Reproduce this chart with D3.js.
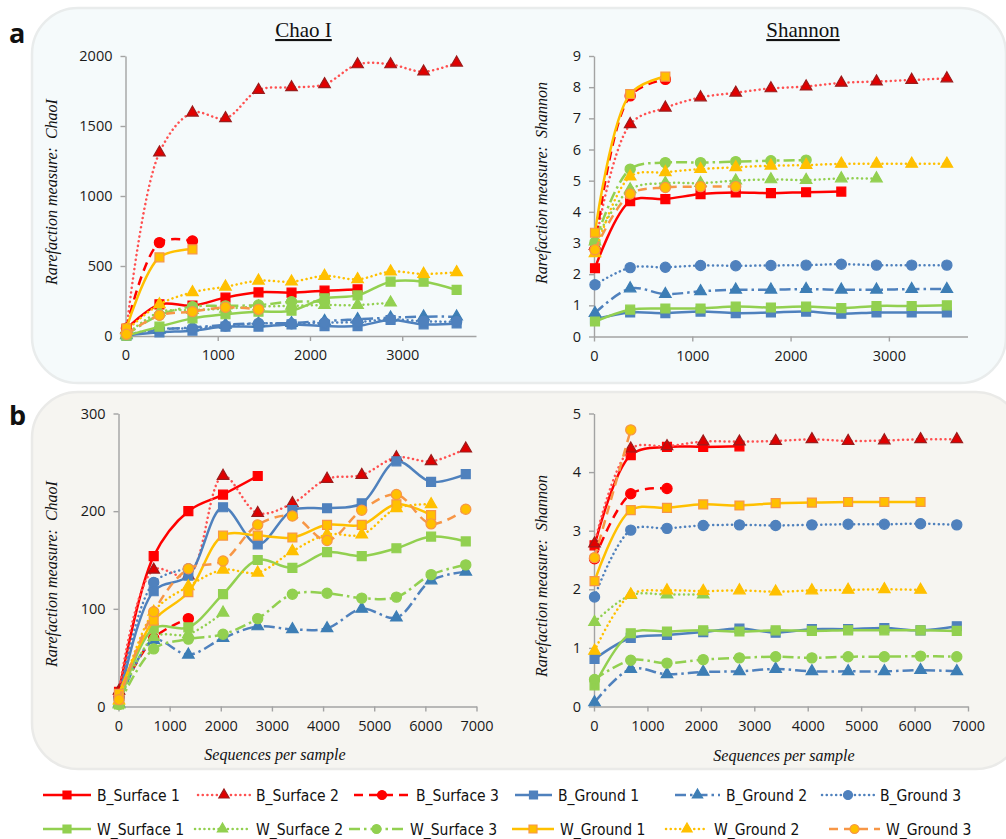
<!DOCTYPE html>
<html><head><meta charset="utf-8">
<script src="https://cdn.jsdelivr.net/npm/d3@7"></script>
<style>body{margin:0;background:#fff;}</style>
</head><body>
<svg id="chart" width="1006" height="839"></svg>
<script>
// ---------- data ----------
const seriesNames = ["B_Surface 1","B_Surface 2","B_Surface 3","B_Ground 1","B_Ground 2","B_Ground 3",
                     "W_Surface 1","W_Surface 2","W_Surface 3","W_Ground 1","W_Ground 2","W_Ground 3"];
const depthsA = [10, 368, 726, 1084, 1442, 1800, 2158, 2516, 2874, 3232, 3590];
const depthsB = [10, 688, 1366, 2044, 2722, 3400, 4078, 4756, 5434, 6112, 6790];
const xTicksA = [0, 1000, 2000, 3000];
const xTicksB = [0, 1000, 2000, 3000, 4000, 5000, 6000, 7000];
const chaoTicksA = [0, 500, 1000, 1500, 2000];
const shannonTicksA = [0, 1, 2, 3, 4, 5, 6, 7, 8, 9];
const chaoTicksB = [0, 100, 200, 300];
const shannonTicksB = [0, 1, 2, 3, 4, 5];

const chaoA = [
  [50, 226, 217, 274, 312, 310, 324, 333],
  [45, 1310, 1595, 1555, 1757, 1776, 1798, 1940, 1940, 1888, 1952],
  [55, 667, 679],
  [3, 26, 38, 67, 67, 83, 71, 71, 114, 83, 90],
  [5, 45, 60, 80, 90, 92, 107, 119, 131, 138, 138],
  [8, 50, 55, 72, 90, 88, 95, 100, 119, 105, 102],
  [2, 67, 126, 155, 174, 181, 269, 290, 388, 388, 329],
  [10, 170, 185, 195, 210, 215, 221, 221, 238],
  [10, 150, 210, 215, 221, 245, 245],
  [55, 562, 619],
  [40, 226, 312, 352, 395, 388, 429, 405, 460, 443, 455],
  [12, 148, 174, 205, 190]
];
const shannonA = [
  [2.19, 4.34, 4.41, 4.57, 4.62, 4.60, 4.63, 4.65],
  [2.9, 6.81, 7.34, 7.67, 7.82, 7.96, 8.02, 8.14, 8.18, 8.23, 8.28],
  [2.8, 7.72, 8.25],
  [0.55, 0.77, 0.75, 0.80, 0.75, 0.77, 0.80, 0.73, 0.77, 0.77, 0.77],
  [0.75, 1.54, 1.36, 1.45, 1.50, 1.50, 1.52, 1.50, 1.50, 1.52, 1.52],
  [1.66, 2.21, 2.22, 2.28, 2.27, 2.28, 2.29, 2.32, 2.29, 2.29, 2.29],
  [0.48, 0.86, 0.90, 0.90, 0.96, 0.93, 0.96, 0.91, 0.98, 0.98, 1.00],
  [3.05, 4.72, 4.92, 4.92, 5.00, 5.04, 5.02, 5.07, 5.07],
  [3.02, 5.37, 5.58, 5.58, 5.61, 5.64, 5.66],
  [3.33, 7.78, 8.34],
  [2.67, 5.13, 5.27, 5.37, 5.43, 5.48, 5.50, 5.54, 5.54, 5.54, 5.54],
  [2.78, 4.57, 4.78, 4.81, 4.81]
];
const chaoB = [
  [15, 154, 200, 217, 236],
  [16, 140, 134, 236, 198, 208, 233, 237, 255, 251, 264],
  [10, 70, 90],
  [5, 118, 134, 204, 166, 201, 203, 208, 251, 230, 238],
  [3, 68, 53, 70, 82, 79, 80, 100, 91, 129, 138],
  [8, 127, 141],
  [2, 80, 81, 115, 150, 142, 158, 154, 162, 174, 169],
  [2, 71, 74, 96],
  [2, 59, 69, 74, 90, 115, 116, 111, 112, 135, 145],
  [13, 88, 117, 175, 175, 173, 186, 186, 207, 196],
  [6, 97, 123, 140, 137, 159, 176, 176, 203, 207],
  [7, 97, 141, 149, 186, 195, 170, 201, 217, 187, 202]
];
const shannonB = [
  [2.75, 4.29, 4.43, 4.43, 4.44],
  [2.78, 4.40, 4.44, 4.52, 4.52, 4.53, 4.56, 4.53, 4.54, 4.56, 4.56],
  [2.52, 3.63, 3.72],
  [0.81, 1.17, 1.22, 1.27, 1.33, 1.26, 1.32, 1.32, 1.34, 1.30, 1.37],
  [0.07, 0.64, 0.55, 0.59, 0.60, 0.64, 0.60, 0.60, 0.60, 0.62, 0.60],
  [1.87, 3.01, 3.04, 3.09, 3.10, 3.09, 3.10, 3.11, 3.11, 3.12, 3.10],
  [0.36, 1.25, 1.28, 1.30, 1.28, 1.30, 1.29, 1.30, 1.30, 1.30, 1.29],
  [1.44, 1.90, 1.91, 1.91],
  [0.46, 0.79, 0.74, 0.80, 0.83, 0.85, 0.83, 0.85, 0.85, 0.86, 0.85],
  [2.14, 3.35, 3.39, 3.45, 3.43, 3.47, 3.48, 3.49, 3.49, 3.49],
  [0.95, 1.91, 1.98, 1.97, 1.98, 1.96, 1.98, 1.99, 2.00, 1.99],
  [2.54, 4.72]
];

// ---------- styles ----------
const RED = "#FF0000", BLUE = "#4F81BD", GREEN = "#92D050", GOLD = "#FFC000", ORANGE = "#F79646";
const styles = [
  {line: RED, dash: "solid", marker: "square", fill: RED, stroke: RED},
  {line: "#FF5050", dash: "dot", marker: "triangle", fill: "#E00000", stroke: "#9B1C1C"},
  {line: RED, dash: "dash", marker: "circle", fill: RED, stroke: RED},
  {line: BLUE, dash: "solid", marker: "square", fill: BLUE, stroke: BLUE},
  {line: BLUE, dash: "dashdot", marker: "triangle", fill: "#3D7EB5", stroke: "#3D7EB5"},
  {line: BLUE, dash: "dot", marker: "circle", fill: BLUE, stroke: BLUE},
  {line: GREEN, dash: "solid", marker: "square", fill: GREEN, stroke: GREEN},
  {line: GREEN, dash: "dot", marker: "triangle", fill: GREEN, stroke: GREEN},
  {line: GREEN, dash: "dashdot", marker: "circle", fill: GREEN, stroke: GREEN},
  {line: GOLD, dash: "solid", marker: "square", fill: GOLD, stroke: ORANGE},
  {line: GOLD, dash: "dot", marker: "triangle", fill: GOLD, stroke: GOLD},
  {line: ORANGE, dash: "dash", marker: "circle", fill: GOLD, stroke: ORANGE}
];
const dashArr = {solid: null, dot: "0.1 4.6", dash: "9 6", dashdot: "11 4 2.5 4"};
const symbolOf = {
  square: d3.symbol().type(d3.symbolSquare).size(80),
  triangle: d3.symbol().type(d3.symbolTriangle).size(58),
  circle: d3.symbol().type(d3.symbolCircle).size(82)
};
const legendSymbolOf = {
  square: d3.symbol().type(d3.symbolSquare).size(64),
  triangle: d3.symbol().type(d3.symbolTriangle).size(46),
  circle: d3.symbol().type(d3.symbolCircle).size(64)
};

const svg = d3.select("#chart");
const tickFont = "'Open Sans', 'Noto Sans', sans-serif";
const serif = "'Liberation Serif', 'DejaVu Serif', serif";

// panel backgrounds
svg.append("rect").attr("x", 32).attr("y", 8).attr("width", 974).attr("height", 375)
  .attr("rx", 46).attr("fill", "#F5FAFB").attr("stroke", "#E9ECEC").attr("stroke-width", 2.5);
svg.append("rect").attr("x", 32).attr("y", 392).attr("width", 990).attr("height", 377)
  .attr("rx", 46).attr("fill", "#F6F5F1").attr("stroke", "#EAEAE8").attr("stroke-width", 2.5);

// panel letters
svg.append("text").attr("x", 9).attr("y", 43).text("a")
  .attr("font-family", tickFont).attr("font-weight", "bold").attr("font-size", 27).attr("fill", "#111");
svg.append("text").attr("x", 9).attr("y", 425).text("b")
  .attr("font-family", tickFont).attr("font-weight", "bold").attr("font-size", 27).attr("fill", "#111");

// titles
[["Chao I", 303.5], ["Shannon", 803]].forEach(([t, cx]) => {
  svg.append("text").attr("x", cx).attr("y", 37).attr("text-anchor", "middle")
    .attr("font-family", serif).attr("font-size", 21).attr("fill", "#111")
    .style("text-decoration", "underline").text(t);
});

function drawPanel(p) {
  const x = d3.scaleLinear().domain(p.xDomain).range(p.xRange);
  const y = d3.scaleLinear().domain(p.yDomain).range(p.yRange);
  const g = svg.append("g");
  const fmt = d3.format("d");

  const ya = g.append("g").attr("transform", `translate(${p.xRange[0]},0)`)
    .call(d3.axisLeft(y).tickValues(p.yTicks).tickFormat(fmt).tickSize(5).tickSizeOuter(0).tickPadding(8));
  const xa = g.append("g").attr("transform", `translate(0,${p.yRange[0]})`)
    .call(d3.axisBottom(x).tickValues(p.xTicks).tickFormat(fmt).tickSize(5).tickSizeOuter(0).tickPadding(9));
  [ya, xa].forEach(a => {
    a.select(".domain").attr("stroke", "#A3A3A3").attr("stroke-width", 1.4);
    a.selectAll(".tick line").attr("stroke", "#A3A3A3").attr("stroke-width", 1.4);
    a.selectAll(".tick text").attr("font-family", tickFont).attr("font-size", 14.5).attr("fill", "#1a1a1a");
  });

  const line = d3.line().x(d => x(d[0])).y(d => y(d[1])).curve(d3.curveCatmullRom.alpha(0.5));
  p.data.forEach((vals, i) => {
    const st = styles[i];
    const pts = vals.map((v, j) => [p.depths[j], v]);
    g.append("path").attr("d", line(pts)).attr("fill", "none")
      .attr("stroke", st.line).attr("stroke-width", 2.5)
      .attr("stroke-dasharray", dashArr[st.dash])
      .attr("stroke-linecap", st.dash === "dot" ? "round" : "butt");
    g.selectAll(null).data(pts).enter().append("path")
      .attr("d", symbolOf[st.marker]())
      .attr("transform", d => `translate(${x(d[0])},${y(d[1])})`)
      .attr("fill", st.fill).attr("stroke", st.stroke).attr("stroke-width", 1.2);
  });

  g.append("text")
    .attr("transform", `translate(${p.yTitle[0]},${p.yTitle[1]}) rotate(-90)`)
    .attr("text-anchor", "middle").attr("font-family", serif).attr("font-style", "italic")
    .attr("font-size", 16).attr("fill", "#111").style("white-space", "pre")
    .text(p.yLabel);
  if (p.xTitle) {
    g.append("text").attr("x", p.xTitle[0]).attr("y", p.xTitle[1]).attr("text-anchor", "middle")
      .attr("font-family", serif).attr("font-style", "italic").attr("font-size", 16).attr("fill", "#111")
      .text("Sequences per sample");
  }
}

drawPanel({xDomain: [0, 3800], xRange: [125.5, 476], yDomain: [0, 2000], yRange: [336, 56],
  xTicks: xTicksA, yTicks: chaoTicksA, depths: depthsA, data: chaoA,
  yLabel: "Rarefaction measure:  ChaoI", yTitle: [57, 192]});
drawPanel({xDomain: [0, 3800], xRange: [594, 967.5], yDomain: [0, 9], yRange: [336.5, 56],
  xTicks: xTicksA, yTicks: shannonTicksA, depths: depthsA, data: shannonA,
  yLabel: "Rarefaction measure:  Shannon", yTitle: [547, 183]});
drawPanel({xDomain: [0, 7000], xRange: [118.5, 476.5], yDomain: [0, 300], yRange: [706.5, 413.5],
  xTicks: xTicksB, yTicks: chaoTicksB, depths: depthsB, data: chaoB,
  yLabel: "Rarefaction measure:  ChaoI", yTitle: [57, 574], xTitle: [275, 760]});
drawPanel({xDomain: [0, 7000], xRange: [594, 968], yDomain: [0, 5], yRange: [706.5, 413.5],
  xTicks: xTicksB, yTicks: shannonTicksB, depths: depthsB, data: shannonB,
  yLabel: "Rarefaction measure:  Shannon", yTitle: [547, 576], xTitle: [784, 761]});

// ---------- legend ----------
const legendPos = [[43, 97], [198, 256], [354, 416], [515, 558], [675, 726], [822, 880],
                   [43, 97], [195, 256], [349, 410], [512, 560], [666, 714], [829, 886]];
const lg = svg.append("g");
seriesNames.forEach((name, i) => {
  const st = styles[i];
  const yy = i < 6 ? 795 : 829;
  const [x0, tx] = legendPos[i];
  const x1 = tx - 6;
  lg.append("line").attr("x1", x0).attr("x2", x1).attr("y1", yy).attr("y2", yy)
    .attr("stroke", st.line).attr("stroke-width", 2.5)
    .attr("stroke-dasharray", dashArr[st.dash])
    .attr("stroke-linecap", st.dash === "dot" ? "round" : "butt");
  lg.append("path").attr("d", legendSymbolOf[st.marker]())
    .attr("transform", `translate(${(x0 + x1) / 2},${yy})`)
    .attr("fill", st.fill).attr("stroke", st.stroke).attr("stroke-width", 1.2);
  lg.append("text").attr("x", tx).attr("y", yy + 5.5).text(name)
    .attr("font-family", "'Liberation Sans Narrow', 'DejaVu Sans Condensed', sans-serif")
    .attr("font-size", 15.5).attr("fill", "#111");
});
</script>
</body></html>
